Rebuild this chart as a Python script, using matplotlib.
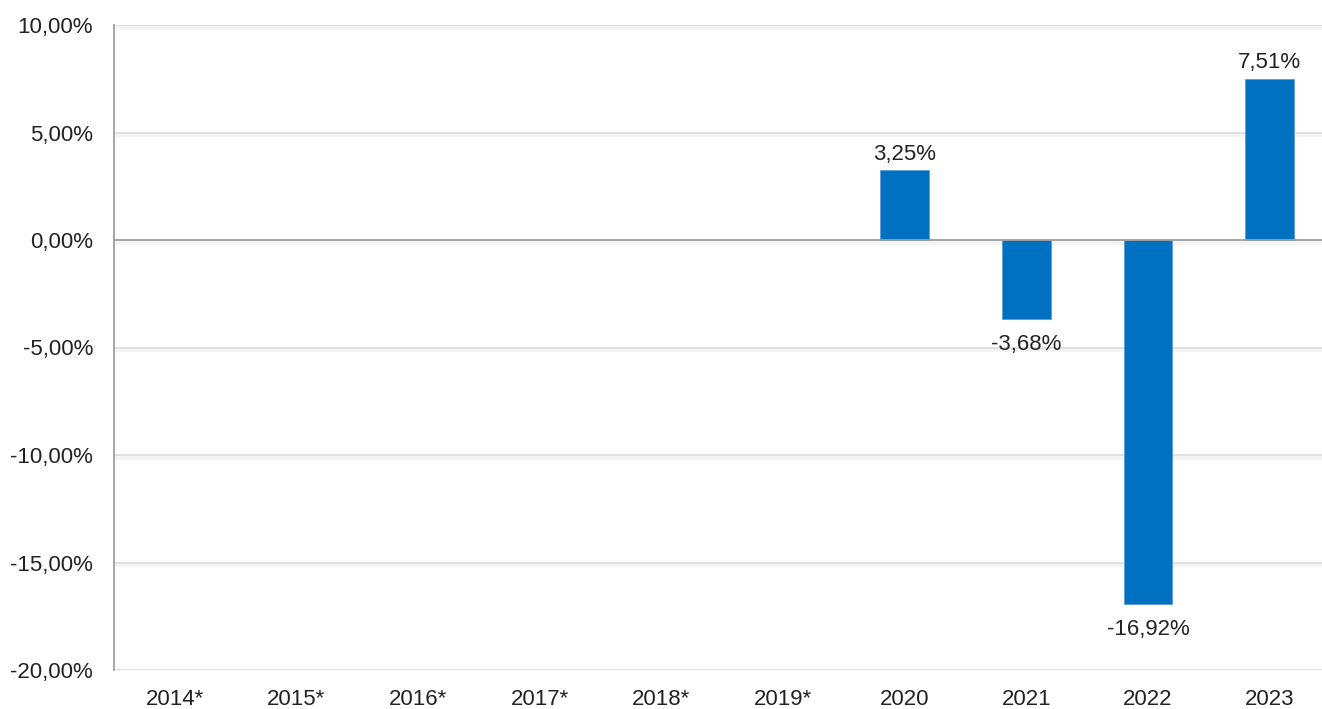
import matplotlib
matplotlib.use("Agg")
import matplotlib.pyplot as plt

categories = ["2014*", "2015*", "2016*", "2017*", "2018*", "2019*", "2020", "2021", "2022", "2023"]
values = [None, None, None, None, None, None, 3.25, -3.68, -16.92, 7.51]
yticks = [10, 5, 0, -5, -10, -15, -20]

plt.rcParams['font.family'] = ['Liberation Sans', 'DejaVu Sans']

W, H = 1322, 709
fig = plt.figure(figsize=(W / 100, H / 100), dpi=100)
left, right, top, bottom = 114, 1322, 25, 670
ax = fig.add_axes([left / W, 1 - bottom / H, (right - left) / W, (bottom - top) / H])

ax.set_ylim(-20, 10)
ax.set_xlim(-0.5, 9.43)

# gridlines with faint shadow
for t in yticks:
    ax.axhline(t, color="#dcdcdc", lw=1.2, zorder=1)
    ax.axhline(t - 0.12, color="#f3f3f3", lw=3, zorder=0.9)
ax.axhline(0, color="#a0a0a0", lw=1.3, zorder=3)

xs = list(range(len(categories)))
for x, v in zip(xs, values):
    if v is None:
        continue
    ax.bar(x, v, width=0.40, color="#0070c0", edgecolor="#5a9fd6", lw=0.6, zorder=2)
    label = f"{v:.2f}".replace(".", ",") + "%"
    if v >= 0:
        ax.annotate(label, (x, v), xytext=(0, 4), textcoords="offset points",
                    ha="center", va="bottom", fontsize=16, color="#222222")
    else:
        ax.annotate(label, (x, v), xytext=(0, -11), textcoords="offset points",
                    ha="center", va="top", fontsize=16, color="#222222")

ax.set_yticks(yticks)
ax.set_yticklabels([f"{t:.2f}".replace(".", ",") + "%" for t in yticks], fontsize=16, color="#222222")
ax.set_xticks(xs)
ax.set_xticklabels(categories, fontsize=16, color="#222222")
ax.tick_params(axis="both", length=0)
ax.tick_params(axis="y", pad=15)
ax.tick_params(axis="x", pad=14)

for s in ["top", "right", "bottom"]:
    ax.spines[s].set_visible(False)
ax.spines["left"].set_color("#a0a0a0")
ax.spines["left"].set_linewidth(1.3)

fig.savefig("out.png", dpi=100, facecolor="white")
